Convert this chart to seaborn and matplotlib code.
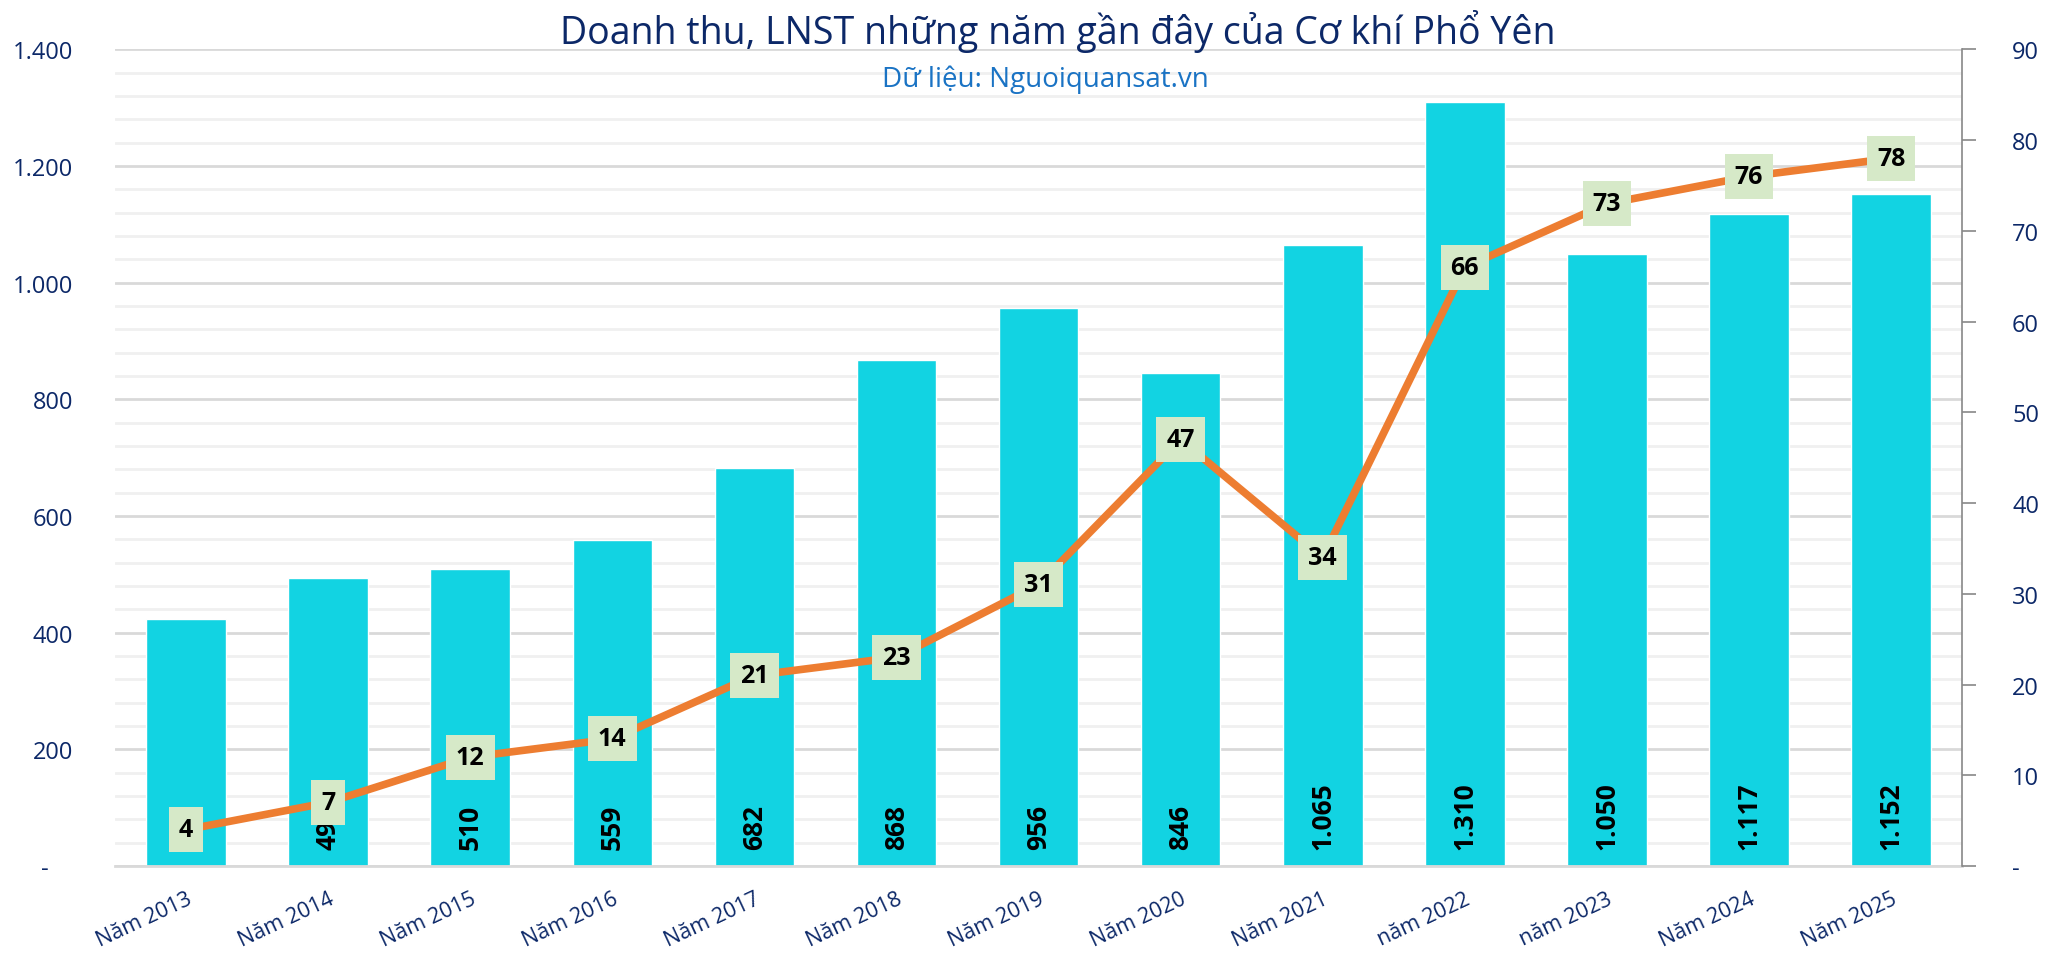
import matplotlib
matplotlib.use("Agg")
import matplotlib.pyplot as plt
from matplotlib.ticker import FuncFormatter, MultipleLocator, FixedLocator
import seaborn as sns
import pandas as pd

years = ["Năm 2013", "Năm 2014", "Năm 2015", "Năm 2016", "Năm 2017", "Năm 2018", "Năm 2019",
         "Năm 2020", "Năm 2021", "năm 2022", "năm 2023", "Năm 2024", "Năm 2025"]
revenue = [423, 494, 510, 559, 682, 868, 956, 846, 1065, 1310, 1050, 1117, 1152]
profit = [4, 7, 12, 14, 21, 23, 31, 47, 34, 66, 73, 76, 78]

title = "Doanh thu, LNST những năm gần đây của Cơ khí Phổ Yên"
subtitle = "Dữ liệu: Nguoiquansat.vn"

navy = "#0c2868"
bar_color = "#12d3e2"
line_color = "#ed7d31"

sns.set_style("white")
plt.rcParams["font.family"] = ["Open Sans", "DejaVu Sans"]

df = pd.DataFrame({"year": years, "revenue": revenue, "profit": profit})


def vn_fmt(v, pos=None):
    if v == 0:
        return "-"
    return f"{v:,.0f}".replace(",", ".")


def axis_fmt(v, pos=None):
    # accounting style: dash for zero, kept a little off the right edge
    if v == 0:
        return "-    "
    return vn_fmt(v)


fig = plt.figure(figsize=(20.46, 9.7), dpi=100)
ax = fig.add_axes([0.0562, 0.1062, 0.9028, 0.8418])

sns.barplot(data=df, x="year", y="revenue", color=bar_color, width=0.56,
            saturation=1, ax=ax, zorder=2)
ax.set_ylim(0, 1400)
ax.set_xlim(-0.5, len(years) - 0.5)
ax.yaxis.set_major_locator(MultipleLocator(200))
ax.yaxis.set_minor_locator(MultipleLocator(40))
ax.yaxis.set_major_formatter(FuncFormatter(axis_fmt))
ax.grid(which="major", axis="y", color="#d9d9d9", linewidth=2, zorder=0)
ax.grid(which="minor", axis="y", color="#f0f0f0", linewidth=2, zorder=0)
ax.set_axisbelow(True)
ax.set_xlabel("")
ax.set_ylabel("")
for s in ["left", "top", "right"]:
    ax.spines[s].set_visible(False)
ax.spines["bottom"].set_color("#d9d9d9")
ax.spines["bottom"].set_linewidth(2)
ax.tick_params(axis="y", which="both", length=0, labelsize=17, labelcolor=navy, pad=30)
ax.tick_params(axis="x", which="major", length=0, labelsize=15.5, labelcolor=navy, pad=16)
ax.xaxis.set_minor_locator(FixedLocator([i - 0.5 for i in range(len(years) + 1)]))
ax.tick_params(axis="x", which="minor", length=8, width=2, color="#d9d9d9")
plt.setp(ax.get_xticklabels(), rotation=25, ha="right", rotation_mode="anchor")

# revenue labels at the bottom of each bar
for i, v in enumerate(revenue):
    ax.annotate(vn_fmt(v), xy=(i, 0), xytext=(0, 12), textcoords="offset points",
                rotation=90, ha="center", va="bottom", fontsize=19,
                fontweight="bold", color="black", zorder=3)

ax2 = ax.twinx()
sns.pointplot(data=df, x="year", y="profit", color=line_color, markers="",
              linewidth=5.5, ax=ax2, zorder=4)
ax2.set_ylim(0, 90)
ax2.set_xlim(-0.5, len(years) - 0.5)
ax2.yaxis.set_major_locator(MultipleLocator(10))
ax2.yaxis.set_major_formatter(FuncFormatter(vn_fmt))
ax2.set_ylabel("")
ax2.set_xlabel("")
for s in ["left", "top", "bottom"]:
    ax2.spines[s].set_visible(False)
ax2.spines["right"].set_color("#888888")
ax2.spines["right"].set_linewidth(1.2)
ax2.tick_params(axis="y", length=10, width=1.2, color="#888888", labelsize=17,
                labelcolor=navy, pad=26, direction="out")

for i, v in enumerate(profit):
    ax2.text(i, v, str(v), ha="center", va="center", fontsize=18, fontweight="bold",
             color="black", zorder=5,
             bbox=dict(boxstyle="square,pad=0.4", facecolor="#d6e9c8", edgecolor="none"))

fig.text(0.517, 0.968, title, ha="center", va="center", fontsize=27, color=navy)
fig.text(0.511, 0.918, subtitle, ha="center", va="center", fontsize=20, color="#1a73c4",
         fontweight="medium")

fig.savefig("out.png", dpi=100)
